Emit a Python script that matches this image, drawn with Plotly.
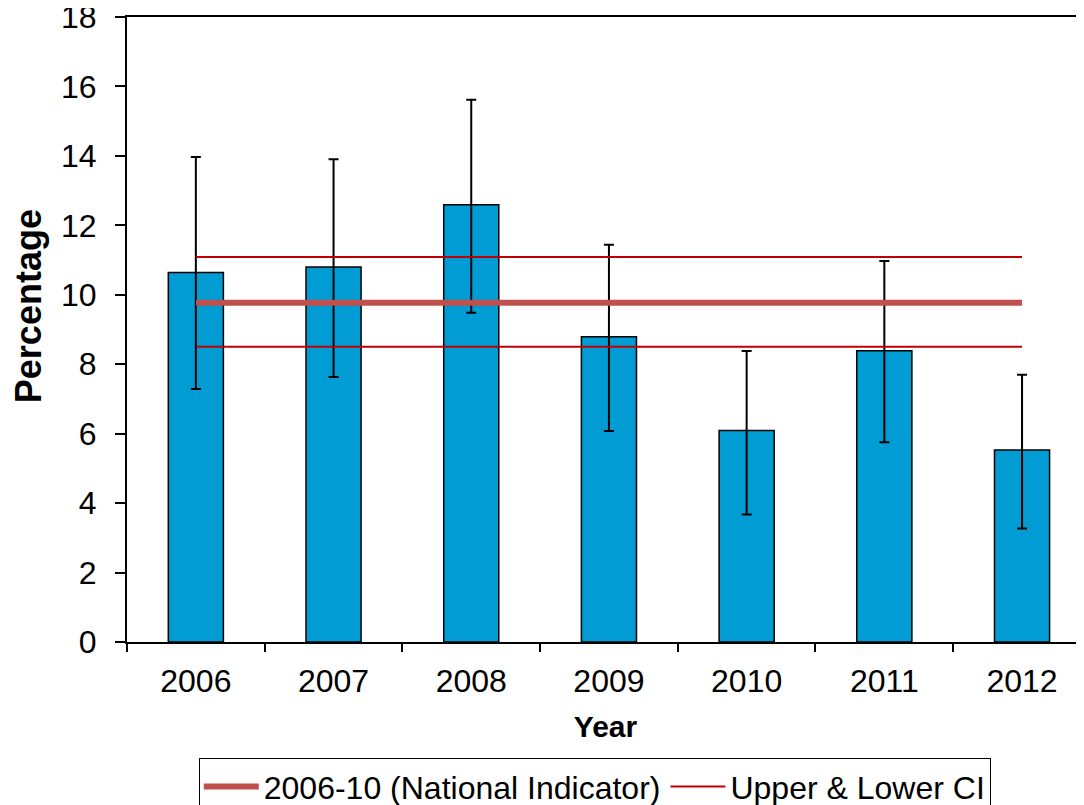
import plotly.graph_objects as go

years = ["2006", "2007", "2008", "2009", "2010", "2011", "2012"]
values = [10.64, 10.80, 12.59, 8.79, 6.09, 8.39, 5.53]
ci_upper = [13.97, 13.90, 15.62, 11.44, 8.38, 10.97, 7.70]
ci_lower = [7.29, 7.63, 9.48, 6.08, 3.67, 5.75, 3.27]
national = 9.77
national_upper = 11.09
national_lower = 8.50

err_plus = [u - v for u, v in zip(ci_upper, values)]
err_minus = [v - l for v, l in zip(values, ci_lower)]

FONT = "Arial, Liberation Sans, sans-serif"

fig = go.Figure()
fig.add_trace(go.Bar(
    x=years, y=values, width=0.4,
    marker=dict(color="#009CD3", line=dict(color="black", width=1.5)),
    error_y=dict(type="data", array=err_plus, arrayminus=err_minus,
                 color="black", thickness=2, width=5, symmetric=False),
    showlegend=False,
))
fig.add_trace(go.Scatter(
    x=years, y=[national] * len(years), mode="lines",
    line=dict(color="#C0504D", width=6),
    name="2006-10 (National Indicator)",
))
fig.add_trace(go.Scatter(
    x=years, y=[national_upper] * len(years), mode="lines",
    line=dict(color="#C00000", width=2),
    name="Upper & Lower CI", legendgroup="ci",
))
fig.add_trace(go.Scatter(
    x=years, y=[national_lower] * len(years), mode="lines",
    line=dict(color="#C00000", width=2),
    name="Upper & Lower CI", legendgroup="ci", showlegend=False,
))

fig.update_layout(
    width=1076, height=820,
    margin=dict(l=119, r=0, t=9, b=186),
    plot_bgcolor="white", paper_bgcolor="white",
    font=dict(family=FONT, size=31, color="black"),
    legend=dict(
        orientation="h", x=0.075, xanchor="left", y=-0.186, yanchor="top",
        bordercolor="black", borderwidth=1, font=dict(size=32),
        itemwidth=55, tracegroupgap=0,
    ),
    annotations=[dict(
        text="<b>Percentage</b>", textangle=-90, showarrow=False,
        xref="paper", yref="paper", x=-0.103, y=0.538,
        xanchor="center", yanchor="middle",
        font=dict(size=36, family=FONT, color="black"),
    )],
)
fig.update_xaxes(
    type="category", range=[-0.5, 6.45], automargin=False,
    showline=True, linecolor="black", linewidth=2, mirror=True,
    ticks="outside", ticklen=8, tickwidth=2, tickcolor="black",
    tickson="boundaries", showgrid=False,
    tickfont=dict(size=32), ticklabelstandoff=10,
    title=dict(text="<b>Year</b>", font=dict(size=30), standoff=18),
)
fig.update_yaxes(
    range=[0, 18], dtick=2, tick0=0, automargin=False,
    showline=True, linecolor="black", linewidth=2,
    ticks="outside", ticklen=10, tickwidth=2, tickcolor="black",
    showgrid=False, zeroline=False, ticklabeloverflow="allow",
    tickfont=dict(size=32), ticklabelstandoff=12,
)

fig.write_html("out.html")
